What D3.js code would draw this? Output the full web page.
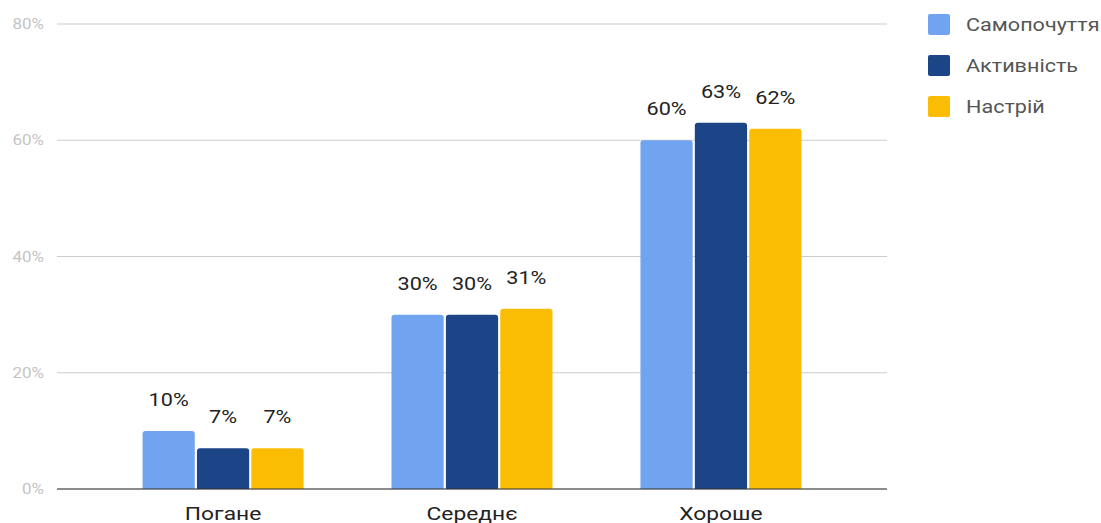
<!DOCTYPE html>
<html>
<head>
<meta charset="utf-8">
<script src="https://cdn.jsdelivr.net/npm/d3@7"></script>
<style>
  body { margin: 0; background: #fff; font-family: Roboto, "Noto Sans", sans-serif; }
</style>
</head>
<body>
<div id="chart"></div>
<script>
// Data
const categories = ["Погане", "Середнє", "Хороше"];
const seriesNames = ["Самопочуття", "Активність", "Настрій"];
const seriesColors = ["#71a4f0", "#1c4587", "#fbbc04"];
const values = [
    [10, 30, 60],   // Самопочуття
    [7, 30, 63],    // Активність
    [7, 31, 62]     // Настрій
];
const yTicks = [0, 20, 40, 60, 80];

// Dimensions
const width = 1101, height = 523;
const margin = { top: 24, right: 214, bottom: 34, left: 57 };
const innerW = width - margin.left - margin.right;
const innerH = height - margin.top - margin.bottom;
const stretch = 1.2; // reference text is drawn a bit wide

const svg = d3.select("#chart")
    .append("svg")
    .attr("width", width)
    .attr("height", height);

const g = svg.append("g")
    .attr("transform", `translate(${margin.left},${margin.top})`);

// helper: place stretched text at x,y
function wideText(parent, x, y, txt, sx) {
    return parent.append("text")
        .attr("transform", `translate(${x},${y}) scale(${sx || stretch},1)`)
        .text(txt);
}

// Scales
const xScale = d3.scalePoint()
    .domain(categories)
    .range([0, innerW])
    .padding(0.667);

const groupW = 161;
const xInner = d3.scaleBand()
    .domain(seriesNames)
    .range([-groupW / 2, groupW / 2])
    .paddingInner(0.04);

const yScale = d3.scaleLinear()
    .domain([0, 80])
    .range([innerH, 0]);

// Gridlines
g.append("g")
    .selectAll("line")
    .data(yTicks)
    .join("line")
    .attr("x1", 0).attr("x2", innerW)
    .attr("y1", d => yScale(d)).attr("y2", d => yScale(d))
    .attr("stroke", "#cccccc");

// Tick labels
yTicks.forEach(t => {
    wideText(g, -13, yScale(t) + 5, t + "%", 1.13)
        .attr("text-anchor", "end")
        .attr("fill", "#c4c4c4")
        .attr("font-size", 15);
});

// Bars
seriesNames.forEach((s, si) => {
    const bars = g.append("g");
    categories.forEach((c, ci) => {
        const v = values[si][ci];
        const x = xScale(c) + xInner(s);
        const w = xInner.bandwidth();
        const y = yScale(v);
        const r = 3;
        bars.append("path")
            .attr("d", `M${x},${innerH} V${y + r} Q${x},${y} ${x + r},${y} H${x + w - r} Q${x + w},${y} ${x + w},${y + r} V${innerH} Z`)
            .attr("fill", seriesColors[si]);
        wideText(bars, x + w / 2, y - 25, v + "%")
            .attr("text-anchor", "middle")
            .attr("font-size", 18)
            .attr("fill", "#222");
    });
});

// Baseline
g.append("line")
    .attr("x1", 0).attr("x2", innerW)
    .attr("y1", innerH).attr("y2", innerH)
    .attr("stroke", "#333").attr("stroke-width", 1.2);

// Category labels
categories.forEach(c => {
    wideText(g, xScale(c), innerH + 31, c)
        .attr("text-anchor", "middle")
        .attr("font-size", 19)
        .attr("fill", "#222");
});

// Legend
const legend = svg.append("g")
    .attr("transform", "translate(928,14)");

seriesNames.forEach((s, i) => {
    const row = legend.append("g").attr("transform", `translate(0,${i * 41})`);
    row.append("rect")
        .attr("width", 22).attr("height", 21)
        .attr("rx", 2)
        .attr("fill", seriesColors[i]);
    wideText(row, 38, 17, s)
        .attr("font-size", 18)
        .attr("fill", "#555");
});
</script>
</body>
</html>
